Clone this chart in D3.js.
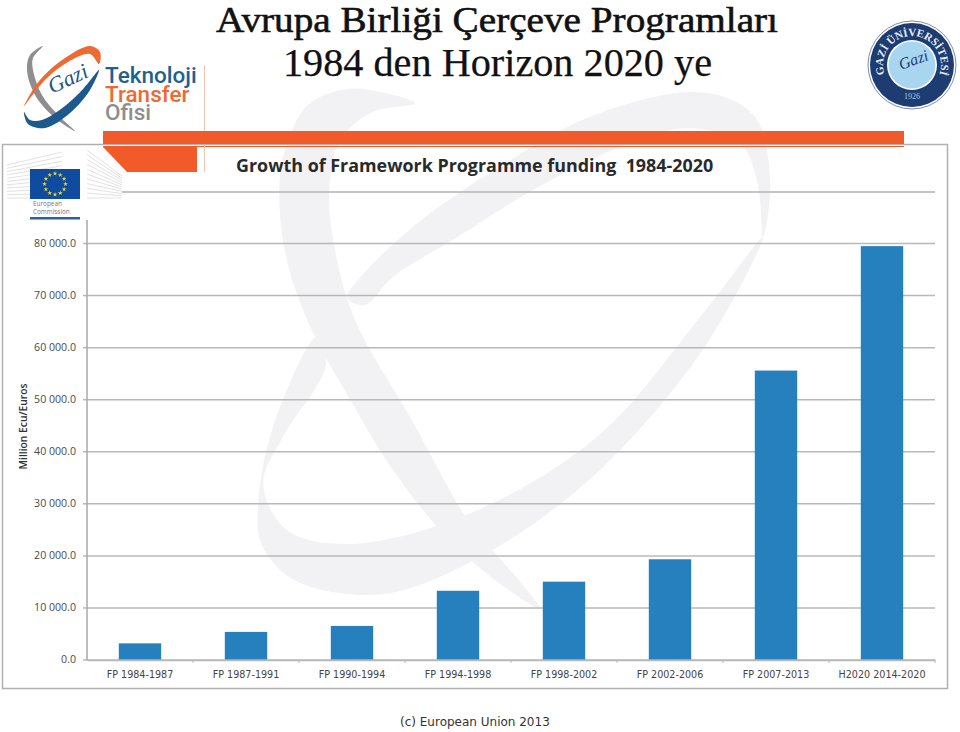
<!DOCTYPE html>
<html lang="en">

<head>
    <meta charset="utf-8">
    <title>Growth of Framework Programme funding 1984-2020</title>
    <script src="https://d3js.org/d3.v7.min.js"></script>
    <style>
        html, body { margin: 0; padding: 0; background: #fff; }
        svg { display: block; }
    </style>
</head>

<body>
<svg id="chart" width="960" height="732"></svg>

<script>
    /* global d3 */
    // values
    const programmes = ["FP 1984-1987", "FP 1987-1991", "FP 1990-1994", "FP 1994-1998",
        "FP 1998-2002", "FP 2002-2006", "FP 2007-2013", "H2020 2014-2020"];
    const funding = [3100, 5300, 6450, 13200, 14950, 19250, 55500, 79400];
    const yTicks = [0, 10000, 20000, 30000, 40000, 50000, 60000, 70000, 80000];

    const slideTitle = ["Avrupa Birliği Çerçeve Programları", "1984 den Horizon 2020 ye"];
    const chartTitle = "Growth of Framework Programme funding  1984-2020";
    const yTitle = "Million Ecu/Euros";
    const footer = "(c) European Union 2013";

    const orange = "#f15a29";
    const barBlue = "#2680be";
    const gridGrey = "#b8b8b8";
    const wash = "#f2f2f4";

    const svg = d3.select("#chart");

    const x = d3.scaleBand().domain(programmes).range([87, 935]);
    const y = d3.scaleLinear().domain([0, 80000]).range([659.5, 243]);

    const blob = d3.line().curve(d3.curveCatmullRomClosed.alpha(0.5));
    function drawBlob(parent, pts, color) {
        parent.append("path").attr("d", blob(pts)).attr("fill", color);
    }

    // watermark, traced in zoomed-crop coordinates (2.8x from 240,80)
    const wm = svg.append("g").attr("transform", "translate(240,80) scale(0.357)");
    // crescent
    drawBlob(wm, [[490, 65], [400, 35], [300, 25], [190, 70], [125, 200], [110, 330], [135, 520], [210, 720],
        [300, 880], [420, 1080], [560, 1260], [700, 1390], [840, 1480], [780, 1400], [710, 1320], [630, 1220],
        [480, 950], [330, 690], [275, 520], [250, 320], [280, 170], [370, 90]], wash);
    // lower band of the ring
    drawBlob(wm, [[1465, 440], [1300, 750], [1000, 1100], [700, 1320], [400, 1440], [150, 1400], [60, 1300], [50, 1200],
        [90, 980], [215, 720], [240, 800], [120, 1000], [65, 1130], [130, 1260], [300, 1300], [630, 1220],
        [1000, 1000], [1300, 650]], wash);
    // upper band of the ring
    drawBlob(wm, [[340, 550], [480, 415], [700, 260], [1000, 95], [1300, 35], [1440, 100], [1485, 280], [1465, 440],
        [1450, 290], [1400, 175], [1250, 135], [1060, 190], [800, 320], [610, 440], [430, 550], [350, 630], [300, 610]], wash);

    // orange header pieces
    svg.append("rect").attr("x", 103).attr("y", 146).attr("width", 801).attr("height", 1).attr("fill", orange);
    svg.append("path").attr("d", "M103,147H197V172H127Z").attr("fill", orange);
    svg.append("rect").attr("x", 204).attr("y", 65).attr("width", 1).attr("height", 107).attr("fill", "#f3c4b0");

    // frame around the pasted chart
    svg.append("rect").attr("x", 2.5).attr("y", 144.5).attr("width", 945).attr("height", 544)
        .attr("fill", "none").attr("stroke", "#b0b0b0").attr("stroke-width", 1.5);
    svg.append("rect").attr("x", 103).attr("y", 131).attr("width", 801).attr("height", 13).attr("fill", orange);

    // slide title
    svg.selectAll(".slideTitle").data(slideTitle).join("text")
        .attr("class", "slideTitle")
        .attr("x", (d, i) => i ? 283 : 216)
        .attr("y", (d, i) => i ? 76 : 32)
        .attr("textLength", (d, i) => i ? 429 : 562)
        .attr("lengthAdjust", "spacingAndGlyphs")
        .attr("font-family", "'Liberation Serif', serif")
        .attr("font-size", (d, i) => i ? 39 : 36)
        .attr("fill", "#111")
        .attr("stroke", "#111")
        .attr("stroke-width", (d, i) => i ? 0.25 : 0.6)
        .text(d => d);

    // chart title
    svg.append("text").attr("x", 236).attr("y", 172)
        .attr("font-family", "'Open Sans', sans-serif").attr("font-weight", 700)
        .attr("font-size", 17.9).attr("fill", "#2a2a2a")
        .style("white-space", "pre")
        .text(chartTitle);
    svg.append("rect").attr("x", 122).attr("y", 191).attr("width", 813).attr("height", 2).attr("fill", "#c4c4c4");

    // white halos the bars carry over the watermark
    svg.append("g").selectAll("rect").data(programmes).join("rect")
        .attr("x", d => x(d) + x.bandwidth() * 0.3 - 3)
        .attr("y", (d, i) => y(funding[i]) - 5)
        .attr("width", x.bandwidth() * 0.4 + 6)
        .attr("height", (d, i) => y(0) - y(funding[i]) + 5)
        .attr("fill", "#fff");

    // y axis with the gridlines
    const spaceFormat = d3.formatLocale({ decimal: ".", thousands: " ", grouping: [3], currency: ["", ""] }).format(",.1f");
    const yAxis = d3.axisLeft(y).tickValues(yTicks).tickFormat(spaceFormat).tickSize(4).tickPadding(7);
    const yG = svg.append("g").attr("transform", "translate(87,0)").call(yAxis);
    yG.select(".domain").remove();
    yG.selectAll(".tick line").attr("stroke", gridGrey).attr("stroke-width", 1.5);
    yG.selectAll(".tick").append("line")
        .attr("x2", 935 - 87).attr("stroke", gridGrey).attr("stroke-width", 1.5);
    yG.selectAll("text")
        .attr("font-family", "'Open Sans', sans-serif").attr("font-size", 10.6).attr("fill", "#4a4a4a");
    svg.append("line").attr("x1", 87).attr("x2", 87).attr("y1", 220).attr("y2", 660)
        .attr("stroke", "#a8a8a8").attr("stroke-width", 1.5);

    // bars
    svg.append("g").selectAll("rect").data(programmes).join("rect")
        .attr("x", d => x(d) + x.bandwidth() * 0.3)
        .attr("y", (d, i) => y(funding[i]))
        .attr("width", x.bandwidth() * 0.4)
        .attr("height", (d, i) => y(0) - y(funding[i]))
        .attr("fill", barBlue);

    // x axis, ticks sit between the bands
    const xAxis = d3.axisBottom(x).tickSize(0).tickPadding(11);
    const xG = svg.append("g").attr("transform", "translate(0,660)").call(xAxis);
    xG.select(".domain").attr("stroke", gridGrey).attr("stroke-width", 1.5);
    xG.selectAll("text")
        .attr("font-family", "'DejaVu Sans', sans-serif").attr("font-size", 9.6).attr("fill", "#444");
    xG.selectAll(".between").data(programmes).join("line")
        .attr("class", "between")
        .attr("x1", d => x(d) + x.bandwidth()).attr("x2", d => x(d) + x.bandwidth())
        .attr("y1", 0).attr("y2", 3)
        .attr("stroke", gridGrey);

    // y axis title
    svg.append("text").attr("transform", "translate(27,426.5) rotate(-90)")
        .attr("text-anchor", "middle")
        .attr("font-family", "'Open Sans', sans-serif").attr("font-weight", 600)
        .attr("font-size", 10.3).attr("fill", "#333").text(yTitle);

    // footer
    svg.append("text").attr("x", 400).attr("y", 726)
        .attr("font-family", "'DejaVu Sans', sans-serif").attr("font-size", 12).attr("fill", "#333")
        .text(footer);

    // European Commission logo
    const ec = svg.append("g");
    d3.range(0, 11).forEach(i => {
        ec.append("line").attr("x1", 7).attr("x2", 62)
            .attr("y1", 165 + i * 3.3).attr("y2", 152 + i * 4.6)
            .attr("stroke", "#e2e2e2");
        ec.append("line").attr("x1", 87).attr("x2", 122)
            .attr("y1", 150 + i * 4.8).attr("y2", 176 + i * 2.2)
            .attr("stroke", "#e2e2e2");
    });
    ec.append("rect").attr("x", 30).attr("y", 169).attr("width", 50).attr("height", 30).attr("fill", "#0f4c9f");
    const star = d3.symbol().type(d3.symbolStar).size(7);
    d3.range(12).forEach(i => {
        const a = i * Math.PI / 6;
        ec.append("path").attr("d", star)
            .attr("transform", `translate(${55 + 10.5 * Math.cos(a)},${184 + 10.5 * Math.sin(a)})`)
            .attr("fill", "#e8d53a");
    });
    ["European", "Commission"].forEach((t, i) => {
        ec.append("text").attr("x", 33).attr("y", 206 + i * 8)
            .attr("font-family", "'Open Sans', sans-serif").attr("font-size", 6.4).attr("fill", "#777").text(t);
    });
    ec.append("rect").attr("x", 30).attr("y", 217).attr("width", 50).attr("height", 2.5).attr("fill", "#2f5f9e");

    // Gazi TTO logo
    const tto = svg.append("g");
    drawBlob(tto, [[43, 46], [30, 55], [27, 70], [35, 95], [55, 118], [75, 131], [58, 115], [42, 95], [33, 70], [33, 58]], "#8e8e90");
    drawBlob(tto, [[24, 106], [40, 80], [65, 58], [90, 46], [100, 52], [99, 64], [90, 54], [68, 62], [45, 80]], "#ee6a33");
    drawBlob(tto, [[24, 112], [28, 124], [45, 128], [70, 113], [90, 90], [99, 70], [84, 88], [65, 106], [42, 120], [30, 120]], "#1c5a8e");
    tto.append("text").attr("transform", "translate(52,94) rotate(-25)")
        .attr("font-family", "'Liberation Serif', serif").attr("font-style", "italic")
        .attr("font-size", 22).attr("fill", "#1d5585").text("Gazi");
    // the wordmark is set tight, one text with three lines
    const wordmark = tto.append("text")
        .attr("font-family", "Roboto, sans-serif").attr("font-weight", 500).attr("font-size", 22.5);
    [["Teknoloji", 83, "#1f5f92"], ["Transfer", 101.5, "#ee6a33"], ["Ofisi", 120, "#8e8e90"]].forEach(t => {
        wordmark.append("tspan").attr("x", 105).attr("y", t[1]).attr("fill", t[2]).text(t[0]);
    });

    // university seal
    const seal = svg.append("g").attr("transform", "translate(912,65)");
    seal.append("circle").attr("r", 44).attr("fill", "#fff").attr("stroke", "#7f8aa3").attr("stroke-width", 1);
    seal.append("circle").attr("r", 42).attr("fill", "#1c3c72");
    seal.append("circle").attr("r", 25).attr("fill", "#fff");
    seal.append("circle").attr("r", 23.5).attr("fill", "#a8d5f0");
    const arcR = 29;
    const arcA = 112 * Math.PI / 180;
    svg.append("defs").append("path").attr("id", "sealArc")
        .attr("d", `M${-arcR * Math.sin(arcA)},${-arcR * Math.cos(arcA)}A${arcR},${arcR} 0 1 1 ${arcR * Math.sin(arcA)},${-arcR * Math.cos(arcA)}`);
    seal.append("text").attr("font-family", "'Liberation Serif', serif").attr("font-weight", 700)
        .attr("font-size", 11).attr("fill", "#e8eef5").attr("text-anchor", "middle")
        .append("textPath").attr("href", "#sealArc").attr("startOffset", "50%").text("GAZİ ÜNİVERSİTESİ");
    seal.append("text").attr("y", 34).attr("text-anchor", "middle")
        .attr("font-family", "'Liberation Serif', serif").attr("font-size", 8).attr("fill", "#b9c7dc").text("1926");
    seal.append("text").attr("transform", "translate(-11,5) rotate(-20)")
        .attr("font-family", "'Liberation Serif', serif").attr("font-style", "italic")
        .attr("font-size", 16).attr("fill", "#1c3c72").text("Gazi");
</script>
</body>

</html>
